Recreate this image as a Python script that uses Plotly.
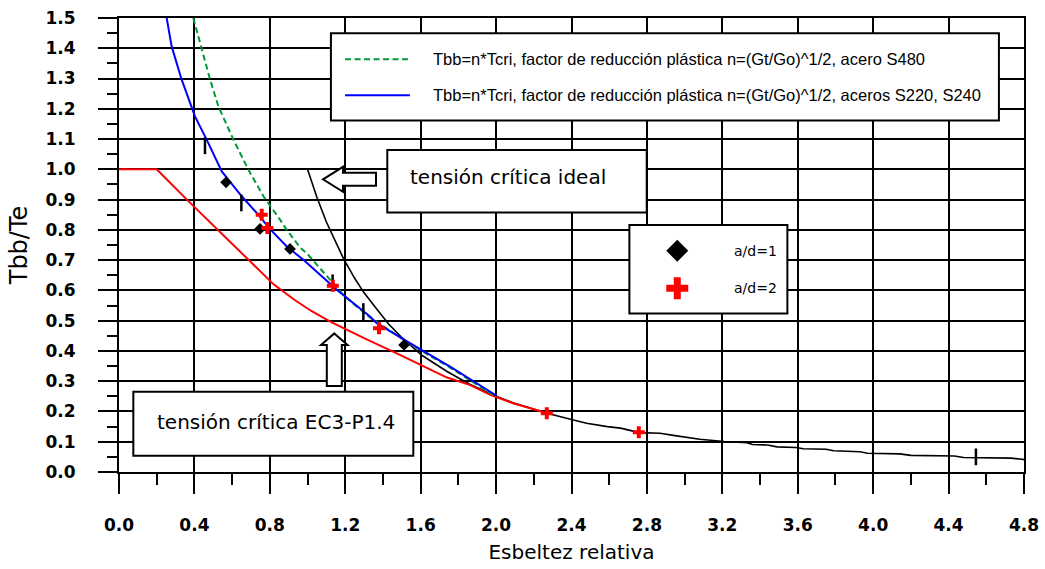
import plotly.graph_objects as go

# --- axis ticks -------------------------------------------------------------
x_ticks = [0.0, 0.4, 0.8, 1.2, 1.6, 2.0, 2.4, 2.8, 3.2, 3.6, 4.0, 4.4, 4.8]
x_ticklabels = ["0.0", "0.4", "0.8", "1.2", "1.6", "2.0", "2.4", "2.8",
                "3.2", "3.6", "4.0", "4.4", "4.8"]
y_ticks = [0.0, 0.1, 0.2, 0.3, 0.4, 0.5, 0.6, 0.7, 0.8, 0.9, 1.0, 1.1, 1.2,
           1.3, 1.4, 1.5]
y_ticklabels = ["0.0", "0.1", "0.2", "0.3", "0.4", "0.5", "0.6", "0.7", "0.8",
                "0.9", "1.0", "1.1", "1.2", "1.3", "1.4", "1.5"]

# --- ideal critical stress (black) -----------------------------------------
lam_ideal = [1.00, 1.05, 1.10, 1.19, 1.25, 1.30, 1.37, 1.43, 1.50, 1.61,
             1.74, 1.86, 1.95, 2.00, 2.09, 2.27, 2.41, 2.48, 2.59, 2.66,
             2.76, 2.87, 2.94, 3.08, 3.21, 3.33, 3.36, 3.44, 3.49, 3.59,
             3.63, 3.75, 3.79, 3.93, 3.97, 4.14, 4.20, 4.43, 4.48, 4.73,
             4.79, 4.80]
t_ideal = [1.000, 0.907, 0.826, 0.706, 0.640, 0.592, 0.536, 0.489, 0.444, 0.384,
           0.332, 0.290, 0.264, 0.250, 0.229, 0.194, 0.172, 0.161, 0.150, 0.145,
           0.130, 0.128, 0.121, 0.108, 0.101, 0.097, 0.091, 0.089, 0.083, 0.081,
           0.077, 0.075, 0.070, 0.067, 0.062, 0.060, 0.055, 0.053, 0.048, 0.046,
           0.042, 0.041]

# --- EC3-P1.4 critical stress (red) ----------------------------------------
lam_ec3 = [0.00, 0.20, 0.36, 0.525, 0.62, 0.72, 0.82, 0.93, 1.02, 1.12,
           1.30, 1.47, 1.60, 1.74, 1.86, 1.97, 2.09, 2.25]
t_ec3 = [1.000, 1.000, 0.900, 0.800, 0.740, 0.680, 0.620, 0.569, 0.532, 0.497,
         0.442, 0.393, 0.354, 0.312, 0.288, 0.255, 0.227, 0.198]

# --- plastic reduction, steels S220/S240 (blue) ----------------------------
lam_s240 = [0.253, 0.279, 0.332, 0.403, 0.465, 0.545, 0.651, 0.730, 0.805,
            0.890, 0.978, 1.155, 1.331, 1.367, 1.543, 1.756, 2.003]
t_s240 = [1.500, 1.407, 1.297, 1.175, 1.098, 0.993, 0.911, 0.856, 0.800,
          0.745, 0.701, 0.602, 0.514, 0.492, 0.426, 0.348, 0.252]

# --- plastic reduction, steel S480 (green, dashed) -------------------------
lam_s480 = [0.394, 0.439, 0.483, 0.527, 0.607, 0.686, 0.766, 0.854, 0.890,
            0.960, 1.000, 1.120, 1.200, 1.331, 1.543, 1.756, 2.000]
t_s480 = [1.500, 1.396, 1.297, 1.208, 1.098, 0.999, 0.911, 0.834, 0.800,
          0.742, 0.720, 0.635, 0.578, 0.511, 0.423, 0.345, 0.249]

# --- test results -----------------------------------------------------------
lam_ad1 = [0.568, 0.748, 0.907, 1.512]
t_ad1 = [0.957, 0.803, 0.737, 0.420]
lam_ad2 = [0.757, 0.787, 1.134, 1.379, 2.269, 2.757]
t_ad2 = [0.850, 0.806, 0.615, 0.475, 0.194, 0.131]
lam_marks = [0.456, 0.649, 1.133, 1.296, 4.545]
t_marks = [1.078, 0.889, 0.625, 0.530, 0.050]

# --- texts ------------------------------------------------------------------
x_title = "Esbeltez relativa"
y_title = "Tbb/Te"
legend_lines = [
    "Tbb=n*Tcri, factor de reducción plástica n=(Gt/Go)^1/2, acero S480",
    "Tbb=n*Tcri, factor de reducción plástica n=(Gt/Go)^1/2, aceros S220, S240",
]
legend_markers = ["a/d=1", "a/d=2"]
label_ideal = "tensión crítica ideal"
label_ec3 = "tensión crítica EC3-P1.4"

GREEN = "#009a3a"
BLUE = "#0000ff"
RED = "#ff0000"

fig = go.Figure()

fig.add_trace(go.Scatter(x=lam_ideal, y=t_ideal, mode="lines",
                         line=dict(color="black", width=1.6)))
fig.add_trace(go.Scatter(x=lam_ec3, y=t_ec3, mode="lines",
                         line=dict(color=RED, width=2)))
fig.add_trace(go.Scatter(x=lam_s480, y=t_s480, mode="lines",
                         line=dict(color=GREEN, width=2, dash="6px,3.5px")))
fig.add_trace(go.Scatter(x=lam_s240, y=t_s240, mode="lines",
                         line=dict(color=BLUE, width=2)))
fig.add_trace(go.Scatter(x=lam_marks, y=t_marks, mode="markers",
                         marker=dict(symbol="line-ns", size=12,
                                     line=dict(color="black", width=2.5))))
fig.add_trace(go.Scatter(x=lam_ad1, y=t_ad1, mode="markers",
                         marker=dict(symbol="diamond", size=9, color="black",
                                     line=dict(width=0))))
fig.add_trace(go.Scatter(x=lam_ad2, y=t_ad2, mode="markers",
                         marker=dict(symbol="cross", size=10, color=RED,
                                     line=dict(width=0))))

shapes = []
annotations = []


def box(x0, y0, x1, y1):
    shapes.append(dict(type="rect", xref="x", yref="y", x0=x0, y0=y0,
                       x1=x1, y1=y1, fillcolor="white",
                       line=dict(color="black", width=2), layer="above"))


def pixel_path(xa, ya, pts, fill, outline=None):
    d = "M" + " L".join(f"{px},{py}" for px, py in pts) + " Z"
    shapes.append(dict(type="path", xref="x", yref="y",
                       xsizemode="pixel", ysizemode="pixel",
                       xanchor=xa, yanchor=ya, path=d, fillcolor=fill,
                       line=dict(color=outline or fill,
                                 width=2 if outline else 0),
                       layer="above"))


# line legend
box(1.124, 1.161, 4.667, 1.450)
for yy, color, dash, txt in [(1.364, GREEN, "dash", legend_lines[0]),
                             (1.245, BLUE, "solid", legend_lines[1])]:
    shapes.append(dict(type="line", xref="x", yref="y", x0=1.199, x1=1.543,
                       y0=yy, y1=yy, layer="above",
                       line=dict(color=color, width=2,
                                 dash="6px,3.5px" if dash == "dash" else "solid")))
    annotations.append(dict(x=1.655, y=yy, xref="x", yref="y", text=txt,
                            showarrow=False, xanchor="left", yanchor="middle",
                            font=dict(family="Liberation Sans", size=16.5,
                                      color="black")))

# ideal critical stress label with arrow
box(1.423, 0.857, 2.799, 1.064)
annotations.append(dict(x=1.533, y=0.974, xref="x", yref="y", text=label_ideal,
                        showarrow=False, xanchor="left", yanchor="middle",
                        font=dict(family="DejaVu Sans", size=20, color="black")))
pixel_path(1.082, 0.967,
           [(0, 0), (20, 12.5), (20, 6.5), (53, 6.5), (53, -6.5),
            (20, -6.5), (20, -12.5)], "white", "black")

# EC3 label with arrow
box(0.076, 0.054, 1.561, 0.265)
annotations.append(dict(x=0.191, y=0.164, xref="x", yref="y", text=label_ec3,
                        showarrow=False, xanchor="left", yanchor="middle",
                        font=dict(family="DejaVu Sans", size=20, color="black")))
pixel_path(1.142, 0.458,
           [(0, 0), (13.3, -11.7), (7.5, -11.7), (7.5, -52.7), (-7.5, -52.7),
            (-7.5, -11.7), (-13.3, -11.7)], "white", "black")

# marker legend
box(2.707, 0.524, 3.545, 0.816)
pixel_path(2.961, 0.731, [(0, 11), (11, 0), (0, -11), (-11, 0)], "black")
pixel_path(2.961, 0.607,
           [(-3.5, 11), (3.5, 11), (3.5, 3.5), (11, 3.5), (11, -3.5),
            (3.5, -3.5), (3.5, -11), (-3.5, -11), (-3.5, -3.5), (-11, -3.5),
            (-11, 3.5), (-3.5, 3.5)], RED)
for yy, txt in [(0.731, legend_markers[0]), (0.607, legend_markers[1])]:
    annotations.append(dict(x=3.250, y=yy, xref="x", yref="y", text=txt,
                            showarrow=False, xanchor="left", yanchor="middle",
                            font=dict(family="DejaVu Sans", size=14,
                                      color="black")))

axis_common = dict(
    showgrid=True, gridcolor="black", gridwidth=2,
    showline=True, linecolor="black", linewidth=2, mirror=True,
    zeroline=False, ticks="outside", tickwidth=2, tickcolor="black",
    automargin=False,
    tickfont=dict(family="DejaVu Sans", size=17, color="black", weight="bold"),
)

fig.update_layout(
    width=1045, height=569,
    margin=dict(l=119, r=21, t=18, b=97),
    paper_bgcolor="white", plot_bgcolor="white",
    showlegend=False,
    shapes=shapes, annotations=annotations,
    xaxis=dict(range=[0, 4.8], tickmode="array", tickvals=x_ticks,
               ticktext=x_ticklabels, ticklen=20, ticklabelstandoff=17,
               minor=dict(dtick=0.2, tick0=0, ticks="outside", ticklen=11,
                          tickwidth=2, tickcolor="black", showgrid=False),
               title=dict(text=x_title, standoff=11,
                          font=dict(family="DejaVu Sans", size=20,
                                    color="black")),
               **axis_common),
    yaxis=dict(range=[0, 1.5], tickmode="array", tickvals=y_ticks,
               ticktext=y_ticklabels, ticklen=19, ticklabelstandoff=19,
               minor=dict(dtick=0.05, tick0=0, ticks="outside", ticklen=10,
                          tickwidth=2, tickcolor="black", showgrid=False),
               title=dict(text=y_title, standoff=11,
                          font=dict(family="DejaVu Sans", size=24,
                                    color="black")),
               **axis_common),
)

fig.write_html("out.html")
